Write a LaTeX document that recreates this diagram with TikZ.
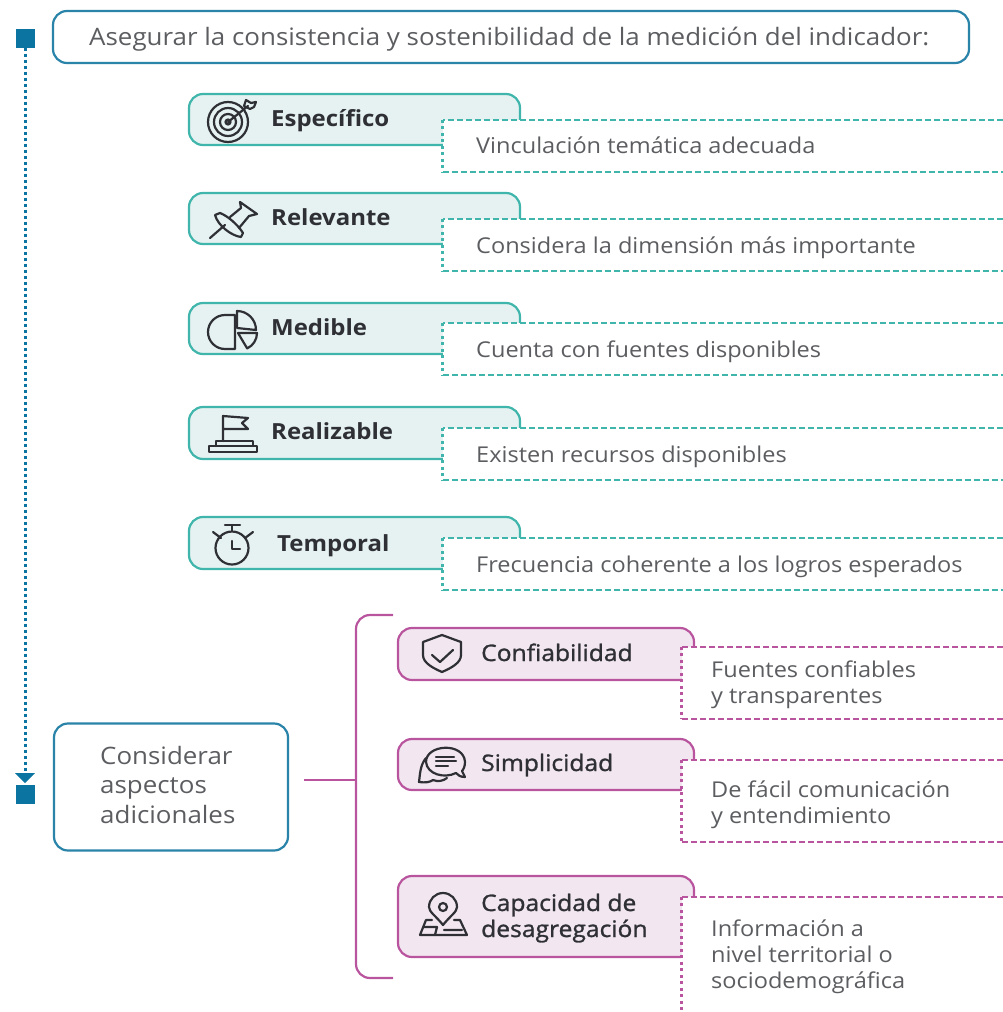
\documentclass[tikz,border=0pt]{standalone}
\usepackage{fontspec}
\setmainfont[FakeStretch=1.08]{Open Sans}
\newfontfamily\semifont[FakeBold=1.2,FakeStretch=1.08]{Open Sans}
\usetikzlibrary{arrows.meta}
\definecolor{tealline}{HTML}{3FB5AB}
\definecolor{tealfill}{HTML}{E5F2F1}
\definecolor{plumline}{HTML}{B9559F}
\definecolor{plumfill}{HTML}{F2E6F0}
\definecolor{blueline}{HTML}{2A83A8}
\definecolor{bluemark}{HTML}{0C74A0}
\definecolor{darktext}{HTML}{2F3036}
\definecolor{greytext}{HTML}{5C5D60}
\tikzset{
  outerbox/.style={draw=blueline,line width=2.2pt,rounded corners=14pt,inner sep=0pt},
  tealbox/.style={draw=tealline,fill=tealfill,line width=2.2pt,rounded corners=14pt,inner sep=0pt,minimum width=331pt},
  plumbox/.style={draw=plumline,fill=plumfill,line width=2.2pt,rounded corners=14pt,inner sep=0pt,minimum width=296pt},
  notearea/.style={fill=white,inner sep=0pt},
  tealdash/.style={draw=tealline,line width=2.4pt,dash pattern=on 6pt off 3pt},
  tealdot/.style={draw=tealline,line width=3pt,dash pattern=on 3pt off 3.5pt},
  plumdash/.style={draw=plumline,line width=2.4pt,dash pattern=on 6pt off 3pt},
  plumdot/.style={draw=plumline,line width=3pt,dash pattern=on 3pt off 3.5pt},
  mark square/.style={fill=bluemark,minimum size=19pt,inner sep=0pt},
  maintext/.style={anchor=base west,inner sep=0pt,text=greytext,font=\fontsize{24}{29.5}\selectfont,align=left},
  notetext/.style={anchor=base west,inner sep=0pt,text=greytext,font=\fontsize{21.8}{26}\selectfont,align=left},
  keytext/.style={anchor=base west,inner sep=0pt,text=darktext,font=\fontsize{22.2}{26}\selectfont\bfseries},
  plumtext/.style={anchor=base west,inner sep=0pt,text=darktext,font=\fontsize{22.8}{26}\semifont,align=left},
  iconline/.style={draw=darktext,line width=2.2pt,line join=round,line cap=round},
}
\begin{document}
\begin{tikzpicture}[x=1pt,y=-1pt]
  \useasboundingbox (0,0) rectangle (1003,1012);
  \draw
    (25,38) node[mark square] (topmark){}
    (25,794) node[mark square] (endmark){}
    (511,37) node[outerbox,minimum width=916pt,minimum height=52pt] (goal){}
    (171,787) node[outerbox,minimum width=234pt,minimum height=127pt] (extra){}
    (354.5,119.5) node[tealbox,minimum height=51pt] (especifico){}
    (354.5,218.5) node[tealbox,minimum height=51pt] (relevante){}
    (354.5,328.5) node[tealbox,minimum height=51pt] (medible){}
    (354.5,433) node[tealbox,minimum height=52pt] (realizable){}
    (354.5,543) node[tealbox,minimum height=52pt] (temporal){}
    (546,654) node[plumbox,minimum height=52pt] (confiabilidad){}
    (546,764.5) node[plumbox,minimum height=51pt] (simplicidad){}
    (546,916.5) node[plumbox,minimum height=81pt] (capacidad){}
    (723,146) node[notearea,minimum width=560pt,minimum height=52pt] (noteesp){}
    (723,245) node[notearea,minimum width=560pt,minimum height=52pt] (noterel){}
    (723,349) node[notearea,minimum width=560pt,minimum height=52pt] (notemed){}
    (723,454) node[notearea,minimum width=560pt,minimum height=52pt] (notereal){}
    (723,564) node[notearea,minimum width=560pt,minimum height=52pt] (notetemp){}
    (842.5,683) node[notearea,minimum width=321pt,minimum height=72pt] (noteconf){}
    (842.5,801) node[notearea,minimum width=321pt,minimum height=82pt] (notesimp){}
    (842.5,953.5) node[notearea,minimum width=321pt,minimum height=113pt] (notecap){};
  % timeline
  \coordinate (lineend) at (25,774);
  \draw[bluemark,line width=3pt,dash pattern=on 3pt off 3pt] (topmark.south) -- (lineend);
  \fill[bluemark] (15,773) -- (35,773) -- (25,783) -- cycle;
  % bracket
  \coordinate (brtop) at (393,615);
  \coordinate (brbot) at (393,978);
  \coordinate (brmid) at (356,780);
  \coordinate (stem) at (304,780);
  \draw[plumline,line width=2.2pt,rounded corners=14pt] (brtop) -- (356,615) -- (356,978) -- (brbot);
  \draw[plumline,line width=2.2pt] (stem) -- (brmid);
  % notes
  \begin{scope}
    \draw[tealdash] (noteesp.north east) -- (noteesp.north west);
    \draw[tealdash] (noteesp.south west) -- (noteesp.south east);
    \draw[tealdot] (noteesp.north west) -- (noteesp.south west);
    \draw[tealdash] (noterel.north east) -- (noterel.north west);
    \draw[tealdash] (noterel.south west) -- (noterel.south east);
    \draw[tealdot] (noterel.north west) -- (noterel.south west);
    \draw[tealdash] (notemed.north east) -- (notemed.north west);
    \draw[tealdash] (notemed.south west) -- (notemed.south east);
    \draw[tealdot] (notemed.north west) -- (notemed.south west);
    \draw[tealdash] (notereal.north east) -- (notereal.north west);
    \draw[tealdash] (notereal.south west) -- (notereal.south east);
    \draw[tealdot] (notereal.north west) -- (notereal.south west);
    \draw[tealdash] (notetemp.north east) -- (notetemp.north west);
    \draw[tealdash] (notetemp.south west) -- (notetemp.south east);
    \draw[tealdot] (notetemp.north west) -- (notetemp.south west);
    \draw[plumdash] (noteconf.north east) -- (noteconf.north west);
    \draw[plumdash] (noteconf.south west) -- (noteconf.south east);
    \draw[plumdot] (noteconf.north west) -- (noteconf.south west);
    \draw[plumdash] (notesimp.north east) -- (notesimp.north west);
    \draw[plumdash] (notesimp.south west) -- (notesimp.south east);
    \draw[plumdot] (notesimp.north west) -- (notesimp.south west);
    \draw[plumdash] (notecap.north east) -- (notecap.north west);
    \draw[plumdot] (notecap.north west) -- (notecap.south west);
  \end{scope}
  % texts
  \draw
    (89,45) node[maintext] (goaltext){Asegurar la consistencia y sostenibilidad de la medición del indicador:}
    (100,823) node[maintext] (extratext){Considerar\\aspectos\\adicionales}
    (271,126) node[keytext] (k1){Específico}
    (271,225) node[keytext] (k2){Relevante}
    (271,335) node[keytext] (k3){Medible}
    (271,439) node[keytext] (k4){Realizable}
    (277,551) node[keytext] (k5){Temporal}
    (481,661) node[plumtext] (k6){Confiabilidad}
    (481,771) node[plumtext] (k7){Simplicidad}
    (481,937) node[plumtext] (k8){Capacidad de\\desagregación}
    (476,153) node[notetext] (n1){Vinculación temática adecuada}
    (476,253) node[notetext] (n2){Considera la dimensión más importante}
    (476,357) node[notetext] (n3){Cuenta con fuentes disponibles}
    (476,462) node[notetext] (n4){Existen recursos disponibles}
    (476,572) node[notetext] (n5){Frecuencia coherente a los logros esperados}
    (711,703) node[notetext] (n6){Fuentes confiables\\y transparentes}
    (711,823) node[notetext] (n7){De fácil comunicación\\y entendimiento}
    (711,988) node[notetext] (n8){Información a\\nivel territorial o\\sociodemográfica};
  % icon target
  \draw[iconline] (228,122) circle (20pt) (228,122) circle (14pt) (228,122) circle (8pt) (228,122) circle (2.5pt);
  \draw[iconline] (228,122) -- (248,106) (244,106) -- (246,100) -- (251,103) -- (256,102) -- (254,107) -- (250,109) -- cycle;
  % icon pin
  \draw[iconline] (210,238) -- (225,225);
  \draw[iconline] (215,215) -- (220,213) .. controls (228,216) and (238,225) .. (243,233) -- (241,237) .. controls (232,236) and (218,226) .. cycle;
  \draw[iconline] (230,217) -- (241,208) -- (240,202) -- (257,214) -- (249,216) -- (239,228);
  % icon pie
  \draw[iconline] (235,315) -- (225,315) arc (90:270:17pt) -- (235,349) -- cycle;
  \draw[iconline] (237,328) -- (237,311) arc (90:0:19pt) -- cycle;
  \draw[iconline] (238,333) -- (257,333) arc (0:-65:17pt) -- cycle;
  % icon flag
  \draw[iconline] (223,441) -- (223,416) -- (248,418) -- (242,423) -- (248,429) -- (223,429);
  \draw[iconline] (216,446) -- (216,441) -- (253,441) -- (253,446);
  \draw[iconline] (209,446) rectangle (257,452);
  % icon stopwatch
  \draw[iconline] (232,548) circle (16.5pt);
  \draw[iconline] (225,525) -- (240,525) (232,525) -- (232,531);
  \draw[iconline] (213,532) -- (221,538) (253,532) -- (245,538);
  \draw[iconline] (232,541) -- (232,549) -- (240,549);
  % icon shield
  \draw[iconline] (442,635) -- (423,642) -- (423,655) .. controls (423,663) and (433,668) .. (442,672) .. controls (451,668) and (461,663) .. (461,655) -- (461,642) -- cycle;
  \draw[iconline] (432,655) -- (440,662) -- (453,650);
  % icon chat
  \draw[iconline] (465,777) .. controls (460,777) and (458,775) .. (456,773) .. controls (444,779) and (427,774) .. (426,762) .. controls (426,744) and (464,742) .. (465,762) .. controls (465,767) and (463,770) .. (462,771) -- cycle;
  \draw[iconline] (426,758) .. controls (420,765) and (420,775) .. (419,782) .. controls (426,783) and (430,782) .. (433,780) .. controls (438,782) and (443,781) .. (447,778);
  \draw[iconline] (436,757) -- (454,757) (436,761) -- (456,761) (436,766) -- (448,766);
  % icon map
  \draw[iconline] (443,925) .. controls (436,916) and (429,912) .. (429,907) arc (180:0:14pt) .. controls (457,912) and (450,916) .. (443,925) -- cycle;
  \draw[iconline] (443,907) circle (4pt);
  \draw[iconline] (432,920) -- (426,920) -- (420,935) -- (467,935) -- (460,920) -- (454,920);
  \draw[iconline] (424,927) -- (437,927) -- (435,935) (444,930) -- (462,930);
\end{tikzpicture}
\end{document}
